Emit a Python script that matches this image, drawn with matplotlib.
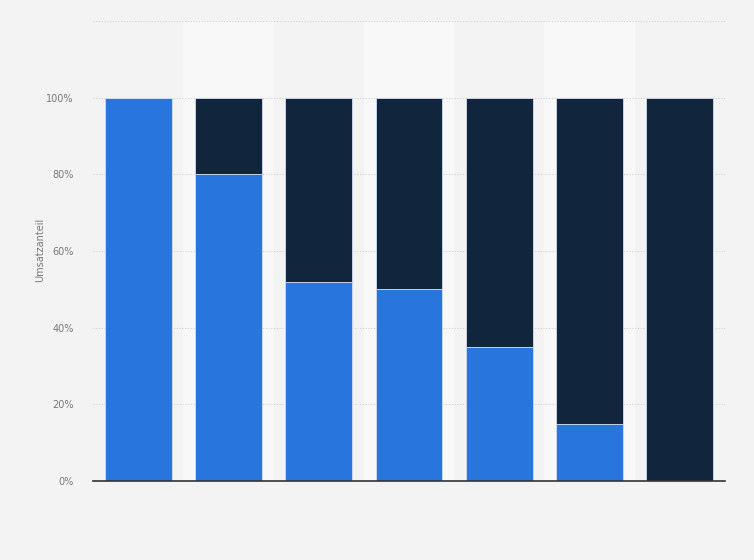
import matplotlib
matplotlib.use("Agg")
import matplotlib.pyplot as plt
import numpy as np

categories = ["1", "2", "3", "4", "5", "6", "7"]
share_blue = [100, 80, 52, 50, 35, 15, 0]
share_dark = [0, 20, 48, 50, 65, 85, 100]
yticks = [0, 20, 40, 60, 80, 100]
ytick_labels = ["0%", "20%", "40%", "60%", "80%", "100%"]

fig = plt.figure(figsize=(7.54, 5.6), dpi=100, facecolor="#f3f3f3")
ax = fig.add_axes([93/754, 79/560, 632/754, 460/560])
ax.set_facecolor("#f3f3f3")

x = np.arange(len(categories))
for i in x:
    if i % 2 == 1:
        ax.axvspan(i - 0.5, i + 0.5, color="#f8f8f8", zorder=0, lw=0)

for g in [0, 20, 40, 60, 80, 100, 120]:
    ax.axhline(g, color="#cfcfcf", lw=0.8, ls=(0, (1, 1.5)), zorder=1)

ax.bar(x, share_blue, width=0.74, color="#2876dd", edgecolor="#cfdff5", linewidth=0.6, zorder=3)
ax.bar(x, share_dark, bottom=share_blue, width=0.74, color="#11263d", edgecolor="#cfdff5", linewidth=0.6, zorder=3)

ax.set_xlim(-0.5, len(categories) - 0.5)
ax.set_ylim(0, 120)
ax.set_xticks([])
ax.set_yticks(yticks)
ax.set_yticklabels(ytick_labels, fontsize=7, color="#777777")
ax.tick_params(axis="y", length=0, pad=14)
for s in ["top", "right", "left"]:
    ax.spines[s].set_visible(False)
ax.spines["bottom"].set_color("#333333")
ax.spines["bottom"].set_linewidth(1.2)
ax.spines["bottom"].set_zorder(5)

fig.text(40/754, 1 - 250/560, "Umsatzanteil", rotation=90, fontsize=7, color="#777777", ha="center", va="center")

fig.savefig("out.png", dpi=100, facecolor=fig.get_facecolor())
